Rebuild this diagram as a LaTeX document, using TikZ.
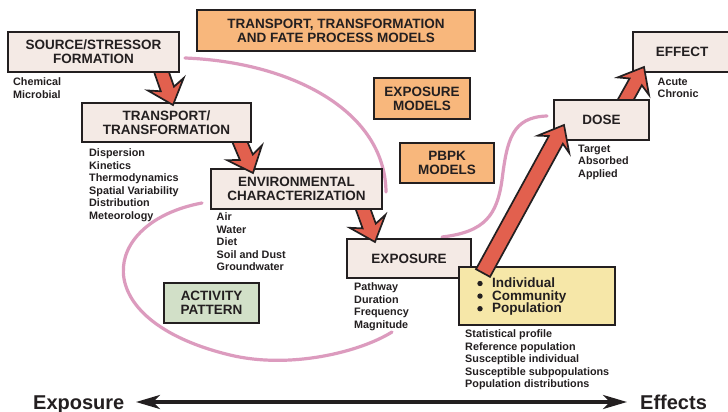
\documentclass[tikz,border=0pt]{standalone}
\usepackage{fontspec}
\setmainfont{Liberation Sans}
\usetikzlibrary{calc,arrows.meta}
\definecolor{ink}{HTML}{231F20}
\definecolor{boxfill}{HTML}{F4EAE5}
\definecolor{orangefill}{HTML}{F8B77C}
\definecolor{greenfill}{HTML}{D2E0C8}
\definecolor{yellowfill}{HTML}{F6E7A8}
\definecolor{arrred}{HTML}{E2604E}
\definecolor{pinkline}{HTML}{DC9BBE}
\tikzset{
  bx/.style={draw=ink, line width=2.7pt, fill=boxfill, align=center, text=ink,
    font=\fontsize{13.5}{14}\selectfont\bfseries, inner sep=0pt},
  obx/.style={bx, fill=orangefill},
  gbx/.style={bx, fill=greenfill},
  ybx/.style={bx, fill=yellowfill},
  lst/.style={anchor=north west, inner sep=0pt, align=left, text=ink,
    font=\fontsize{10.8}{12.6}\selectfont\bfseries},
  pinkcurve/.style={draw=pinkline, line width=3.2pt, line cap=round},
  redarrow/.style={fill=arrred, draw=ink, line width=1.7pt, line join=miter},
  bulletdot/.style={fill=ink},
}
\newcommand\redarrow[4]{%
  \coordinate (rn) at ($(#2)!17pt!(#1)$);
  \coordinate (rb) at ($(#2)!22pt!(#1)$);
  \draw[redarrow] ($(#1)!#3!90:(#2)$) -- ($(rn)!#3!90:(#2)$) -- ($(rb)!#4!90:(#2)$) -- (#2)
    -- ($(rb)!#4!-90:(#2)$) -- ($(rn)!#3!-90:(#2)$) -- ($(#1)!#3!-90:(#2)$) -- cycle;}
\begin{document}
\begin{tikzpicture}[x=1pt,y=-1pt]
\useasboundingbox[fill=white] (0,0) rectangle (728,412);

% pink curves
\coordinate (c1a) at (185,58);
\coordinate (c1b) at (386,192);
\draw[pinkcurve] (c1a) .. controls (290,62) and (385,110) .. (c1b);
\coordinate (c2a) at (202,203);
\coordinate (c2b) at (392,332);
\draw[pinkcurve] (c2a) .. controls (100,222) and (85,320) .. (230,355)
  .. controls (290,369.5) and (360,352) .. (c2b);
\coordinate (c3a) at (442,237);
\coordinate (c3b) at (547,116);
\draw[pinkcurve] (c3a) .. controls (485,232) and (497,215) .. (502,180)
  .. controls (507,140) and (512,117) .. (c3b);

% model boxes
\node[obx, minimum width=278pt, minimum height=41pt] (tmod) at (336,30.5)
  {TRANSPORT, TRANSFORMATION\\AND FATE PROCESS MODELS};
\node[obx, minimum width=96pt, minimum height=41pt] (emod) at (422,98.5)
  {EXPOSURE\\MODELS};
\node[obx, minimum width=94pt, minimum height=40pt] (pbpk) at (447,163)
  {PBPK\\MODELS};
\node[gbx, minimum width=95pt, minimum height=40pt] (act) at (211.5,303)
  {ACTIVITY\\PATTERN};

% chain of boxes (layered so arrow tails hide behind boxes)
\node[bx, minimum width=124pt, minimum height=39pt] (exp) at (409,258.5) {EXPOSURE};
\node[ybx, minimum width=156pt, minimum height=58pt] (pop) at (537,296) {};
\node[anchor=north west, inner sep=0pt, align=left, text=ink,
  font=\fontsize{13.5}{12.6}\selectfont\bfseries] (popt) at (492,277.5)
  {Individual\\Community\\Population};
\fill[bulletdot] ($(popt.north west)+(-12,6)$) circle (2.7pt);
\fill[bulletdot] ($(popt.north west)+(-12,18.6)$) circle (2.7pt);
\fill[bulletdot] ($(popt.north west)+(-12,31.2)$) circle (2.7pt);

\coordinate (a3s) at (358,195);
\coordinate (a3e) at (375,242);
\redarrow{a3s}{a3e}{7pt}{19pt}
\node[bx, minimum width=171pt, minimum height=40pt] (env) at (296.5,189)
  {ENVIRONMENTAL\\CHARACTERIZATION};

\coordinate (a2s) at (234,128);
\coordinate (a2e) at (253,173);
\redarrow{a2s}{a2e}{7pt}{19pt}
\node[bx, minimum width=169pt, minimum height=39pt] (tra) at (166.5,122.5)
  {TRANSPORT/\\TRANSFORMATION};

\coordinate (a1s) at (158,62);
\coordinate (a1e) at (173,105);
\redarrow{a1s}{a1e}{7pt}{19pt}
\node[bx, minimum width=171pt, minimum height=40pt] (src) at (93.5,52)
  {SOURCE/STRESSOR\\FORMATION};

\node[bx, minimum width=98pt, minimum height=40pt] (eff) at (682,52) {EFFECT};
\coordinate (a5s) at (620,110);
\coordinate (a5e) at (644,67);
\redarrow{a5s}{a5e}{7pt}{18pt}
\node[bx, minimum width=95pt, minimum height=40pt] (dose) at (601.5,120) {DOSE};

\coordinate (a4s) at (483,273);
\coordinate (a4e) at (564,125);
\redarrow{a4s}{a4e}{8pt}{18pt}

% lists
\node[lst] (l1) at (13,77.5) {Chemical\\Microbial};
\node[lst] (l2) at (89,148.5) {Dispersion\\Kinetics\\Thermodynamics\\Spatial Variability\\Distribution\\Meteorology};
\node[lst] (l3) at (216.5,212.5) {Air\\Water\\Diet\\Soil and Dust\\Groundwater};
\node[lst] (l4) at (354,282.5) {Pathway\\Duration\\Frequency\\Magnitude};
\node[lst] (l5) at (465,329.5) {Statistical profile\\Reference population\\Susceptible individual\\Susceptible subpopulations\\Population distributions};
\node[lst] (l6) at (578,144.5) {Target\\Absorbed\\Applied};
\node[lst] (l7) at (657.5,77.5) {Acute\\Chronic};

% bottom axis
\node[anchor=base west, inner sep=0pt, text=ink, font=\fontsize{20}{20}\selectfont\bfseries]
  (lexp) at (33,409) {Exposure};
\node[anchor=base west, inner sep=0pt, text=ink, font=\fontsize{20}{20}\selectfont\bfseries]
  (leff) at (640,409) {Effects};
\coordinate (axl) at (136,402);
\coordinate (axr) at (627,402);
\draw[ink, line width=3.6pt,
  {Stealth[length=24pt,width=14pt,inset=7pt]}-{Stealth[length=24pt,width=14pt,inset=7pt]}]
  (axl) -- (axr);
\end{tikzpicture}
\end{document}
